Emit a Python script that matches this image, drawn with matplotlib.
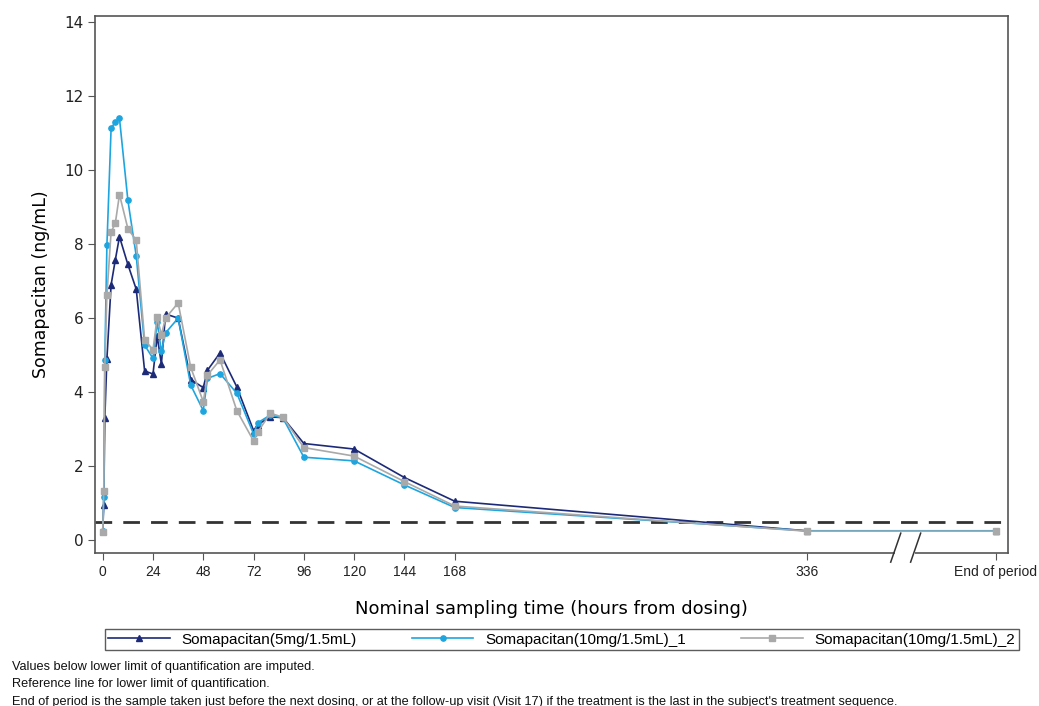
import matplotlib
matplotlib.use("Agg")
import matplotlib.pyplot as plt
import matplotlib.transforms as mtransforms
from matplotlib.patches import Rectangle

# Nominal sampling times (hours); "End of period" is drawn at an axis-break position
END_POS = 426.3
times = [0, 0.5, 1, 2, 4, 6, 8, 12, 16, 20, 24, 26, 28, 30, 36, 42, 48, 50, 56, 64,
         72, 74, 80, 86, 96, 120, 144, 168, 336, END_POS]

soma_5mg = [0.25, 0.95, 3.29, 4.9, 6.9, 7.57, 8.2, 7.45, 6.78, 4.57, 4.49, 5.51, 4.76, 6.11,
            6.0, 4.34, 4.12, 4.59, 5.06, 4.14, 2.96, 3.12, 3.33, 3.31, 2.61, 2.46, 1.69,
            1.05, 0.25, 0.25]
soma_10mg_1 = [0.25, 1.17, 4.86, 7.97, 11.13, 11.3, 11.4, 9.19, 7.68, 5.27, 4.91, 5.9, 5.1,
               5.6, 6.0, 4.19, 3.5, 4.37, 4.5, 3.97, 2.87, 3.17, 3.38, 3.3, 2.24, 2.14, 1.49,
               0.88, 0.25, 0.25]
soma_10mg_2 = [0.22, 1.32, 4.68, 6.62, 8.33, 8.56, 9.34, 8.42, 8.1, 5.42, 5.14, 6.03, 5.55,
               6.0, 6.41, 4.67, 3.74, 4.46, 4.87, 3.5, 2.68, 2.92, 3.43, 3.32, 2.5, 2.27, 1.58,
               0.92, 0.24, 0.24]

LLOQ = 0.5
xtick_pos = [0, 24, 48, 72, 96, 120, 144, 168, 336, END_POS]
xtick_labels = ["0", "24", "48", "72", "96", "120", "144", "168", "336", "End of period"]
yticks = [0, 2, 4, 6, 8, 10, 12, 14]

footnotes = [
    "Values below lower limit of quantification are imputed.",
    "Reference line for lower limit of quantification.",
    "End of period is the sample taken just before the next dosing, or at the follow-up visit "
    "(Visit 17) if the treatment is the last in the subject's treatment sequence.",
]

NAVY = "#1c2a78"
CYAN = "#1ea5df"
GREY = "#a9a9a9"
SPINE = "#555555"

fig = plt.figure(figsize=(10.39, 7.06), dpi=100)
ax = fig.add_axes([0.0914, 0.2167, 0.8786, 0.7603])

# drawn in study order; the later series sit on top
ax.plot(times, soma_5mg, color=NAVY, lw=1.2, marker="^", ms=4,
        label="Somapacitan(5mg/1.5mL)", zorder=3)
ax.plot(times, soma_10mg_1, color=CYAN, lw=1.2, marker="o", ms=3.8,
        label="Somapacitan(10mg/1.5mL)_1", zorder=4)
ax.plot(times, soma_10mg_2, color=GREY, lw=1.2, marker="s", ms=3.8,
        label="Somapacitan(10mg/1.5mL)_2", zorder=5)
ax.axhline(LLOQ, color="#333333", lw=2, dashes=(6, 4), zorder=2)

ax.set_xlim(-3.7, 432)
ax.set_ylim(-0.35, 14.16)
ax.set_xticks(xtick_pos)
ax.set_xticklabels(xtick_labels, family="Liberation Sans", fontsize=10)
ax.set_yticks(yticks)
ax.tick_params(direction="out", length=5, color=SPINE, labelcolor="#222222")
ax.tick_params(axis="y", labelsize=11)
for s in ax.spines.values():
    s.set_color(SPINE)
    s.set_linewidth(1.2)

ax.set_xlabel("Nominal sampling time (hours from dosing)", fontsize=13, labelpad=15)
ax.set_ylabel("Somapacitan (ng/mL)", fontsize=12.5, labelpad=10)

# axis break between 336 and End of period
trans = mtransforms.blended_transform_factory(ax.transData, ax.transAxes)
ax.add_patch(Rectangle((378.0, -0.01), 9.5, 0.02, transform=trans, facecolor="white",
                       edgecolor="none", clip_on=False, zorder=6))
for x0 in (376.1, 385.6):
    ax.plot([x0, x0 + 4.8], [-0.017, 0.037], transform=trans, color="#333333", lw=1.1,
            clip_on=False, zorder=7)

leg = fig.legend(loc="center", bbox_to_anchor=(97 / 1039, 0.077, 930 / 1039, 0.034),
                 mode="expand", ncol=3, frameon=True, fancybox=False,
                 handlelength=4.0, handletextpad=0.8, borderpad=0.25, columnspacing=1.5,
                 prop={"family": "Liberation Sans", "size": 11})
leg.get_frame().set_edgecolor("#333333")
leg.get_frame().set_linewidth(1.0)

for i, txt in enumerate(footnotes):
    fig.text(12 / 1039, 1 - (667 + 17.5 * i) / 706, txt, fontsize=9.2, va="center",
             family="Liberation Sans", color="#111111")

fig.savefig("out.png", dpi=100)
